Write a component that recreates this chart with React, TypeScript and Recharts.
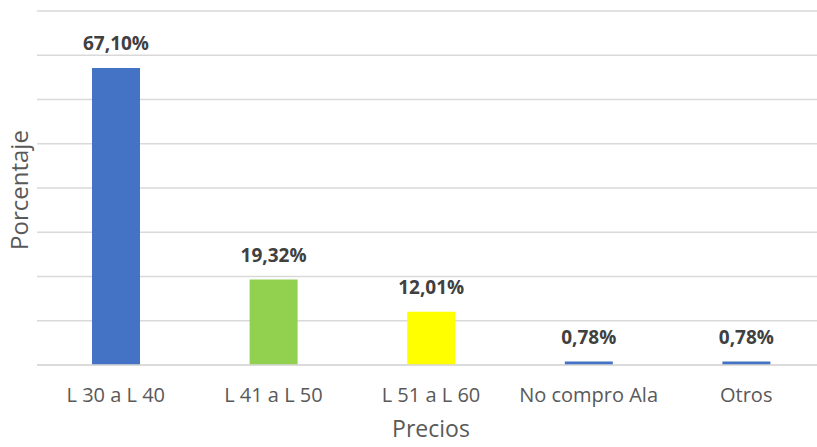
import { BarChart, Bar, XAxis, YAxis, CartesianGrid, Cell, LabelList } from "recharts";

const categories = ["L 30 a L 40", "L 41 a L 50", "L 51 a L 60", "No compro Ala", "Otros"];
const values = [67.1, 19.32, 12.01, 0.78, 0.78];
const barColors = ["#4472C4", "#92D050", "#FFFF00", "#4472C4", "#4472C4"];
const yTicks = [0, 10, 20, 30, 40, 50, 60, 70, 80];

const data = categories.map((name, i) => ({ name, value: values[i] }));

const FONT = "'Open Sans', Lato, sans-serif";

const fmt = (v: number) => `${v.toFixed(2).replace(".", ",")}%`;

export default function App() {
  return (
    <div
      style={{
        position: "absolute",
        left: 0,
        top: 0,
        width: 817,
        height: 447,
        overflow: "hidden",
        background: "#fff",
        fontFamily: FONT,
      }}
    >
      <BarChart
        width={830}
        height={447}
        data={data}
        margin={{ top: 11, right: 5, left: 0, bottom: 0 }}
        barSize={48}
      >
        <CartesianGrid
          vertical={false}
          horizontalValues={yTicks}
          stroke="#d9d9d9"
          strokeWidth={1.3}
        />
        <YAxis
          domain={[0, 80]}
          ticks={yTicks}
          width={37}
          tickFormatter={() => ""}
          axisLine={false}
          tickLine={false}
          label={({ viewBox }: any) => {
            const cx = viewBox.x + 18;
            const cy = viewBox.y + viewBox.height / 2 + 2;
            return (
              <text
                x={cx}
                y={cy}
                transform={`rotate(-90 ${cx} ${cy})`}
                textAnchor="middle"
                dominantBaseline="central"
                fill="#595959"
                fontSize={24}
                fontFamily={FONT}
              >
                Porcentaje
              </text>
            );
          }}
        />
        <XAxis
          dataKey="name"
          height={82}
          axisLine={{ stroke: "#d9d9d9", strokeWidth: 1.3 }}
          tickLine={false}
          tickMargin={17}
          interval={0}
          tick={{ fill: "#595959", fontSize: 20, fontFamily: FONT }}
          label={({ viewBox }: any) => (
            <text
              x={viewBox.x + viewBox.width / 2}
              y={viewBox.y + 63}
              textAnchor="middle"
              dominantBaseline="central"
              fill="#595959"
              fontSize={23}
              fontFamily={FONT}
            >
              Precios
            </text>
          )}
        />
        <Bar dataKey="value" isAnimationActive={false}>
          {data.map((d, i) => (
            <Cell key={d.name} fill={barColors[i]} />
          ))}
          <LabelList
            dataKey="value"
            position="top"
            offset={18}
            formatter={(v: any) => fmt(Number(v))}
            fill="#404040"
            fontSize={19}
            fontWeight="bold"
            fontFamily={FONT}
          />
        </Bar>
      </BarChart>
    </div>
  );
}
